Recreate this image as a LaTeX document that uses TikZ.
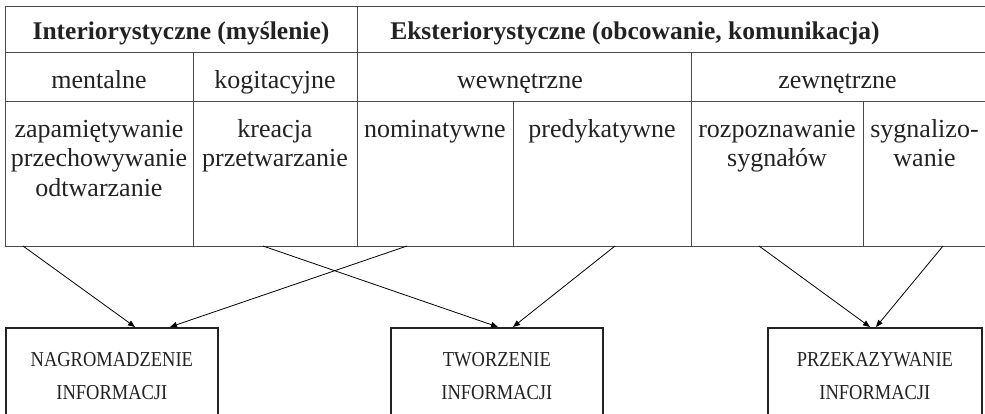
\documentclass[tikz,border=0pt]{standalone}
\usepackage{fontspec}
\usepackage{graphicx}
\setmainfont{Liberation Serif}
\usetikzlibrary{arrows.meta}
\definecolor{ink}{HTML}{222222}
\definecolor{rule}{HTML}{4A4A4A}
\newcommand\tallcap[1]{\scalebox{1}[1.15]{#1}}
\begin{document}
\begin{tikzpicture}[x=1pt,y=-1pt,
  cell/.style={draw=rule,line width=1pt,rectangle,anchor=north west,inner sep=0pt,outer sep=0pt},
  txt/.style={text=ink,font=\fontsize{26}{29.5}\selectfont,inner sep=0pt,align=center},
  head/.style={txt,font=\fontsize{25.5}{29}\selectfont\bfseries},
  outbox/.style={draw=ink,line width=1.7pt,rectangle,anchor=north west,inner sep=0pt,
     minimum height=98pt,text=ink,font=\fontsize{18.5}{33}\selectfont,align=center},
  arr/.style={draw=black,line width=0.8pt,-{Triangle[length=7pt,width=5.5pt]}}]
\useasboundingbox (0,0) rectangle (985,414);
% row 1
\node[cell,minimum width=352pt,minimum height=46pt] (c11) at (5,7) {};
\node[cell,minimum width=633pt,minimum height=46pt] (c12) at (357,7) {};
% row 2
\node[cell,minimum width=188pt,minimum height=49pt] (c21) at (5,53) {};
\node[cell,minimum width=164pt,minimum height=49pt] (c22) at (193,53) {};
\node[cell,minimum width=334pt,minimum height=49pt] (c23) at (357,53) {};
\node[cell,minimum width=299pt,minimum height=49pt] (c24) at (691,53) {};
% row 3
\node[cell,minimum width=188pt,minimum height=144pt] (c31) at (5,102) {};
\node[cell,minimum width=164pt,minimum height=144pt] (c32) at (193,102) {};
\node[cell,minimum width=156pt,minimum height=144pt] (c33) at (357,102) {};
\node[cell,minimum width=178pt,minimum height=144pt] (c34) at (513,102) {};
\node[cell,minimum width=172pt,minimum height=144pt] (c35) at (691,102) {};
\node[cell,minimum width=127pt,minimum height=144pt] (c36) at (863,102) {};
% texts
\node[head,anchor=base] (t11) at (c11.center |- 0,40) {Interiorystyczne (myślenie)};
\node[head,anchor=base] (t12) at ([xshift=-38.5pt]c12.center |- 0,40) {Eksteriorystyczne (obcowanie, komunikacja)};
\node[txt,anchor=base] (t21) at (c21.center |- 0,88.5) {mentalne};
\node[txt,anchor=base] (t22) at (c22.center |- 0,88.5) {kogitacyjne};
\node[txt,anchor=base] (t23) at ([xshift=-4pt]c23.center |- 0,88.5) {wewnętrzne};
\node[txt,anchor=base] (t24) at ([xshift=-3pt]c24.center |- 0,88.5) {zewnętrzne};
\node[txt,anchor=north] (t31) at ([yshift=-14.5pt]c31.north) {\strut zapamiętywanie\\przechowywanie\\odtwarzanie};
\node[txt,anchor=north] (t32) at ([yshift=-14.5pt]c32.north) {\strut kreacja\\przetwarzanie};
\node[txt,anchor=north] (t33) at ([yshift=-14.5pt]c33.north) {\strut nominatywne};
\node[txt,anchor=north] (t34) at ([yshift=-14.5pt]c34.north) {\strut predykatywne};
\node[txt,anchor=north] (t35) at ([yshift=-14.5pt]c35.north) {\strut rozpoznawanie\\sygnałów};
\node[txt,anchor=north] (t36) at ([yshift=-14.5pt,xshift=-2pt]c36.north) {\strut sygnalizo-\\wanie};
% output boxes
\node[outbox,minimum width=212pt] (b1) at (5,327) {\strut\tallcap{NAGROMADZENIE}\\\strut\tallcap{INFORMACJI}};
\node[outbox,minimum width=212pt] (b2) at (390,327) {\strut\tallcap{TWORZENIE}\\\strut\tallcap{INFORMACJI}};
\node[outbox,minimum width=214pt] (b3) at (767,327) {\strut\tallcap{PRZEKAZYWANIE}\\\strut\tallcap{INFORMACJI}};
% arrows
\draw[arr] ([xshift=18pt]c31.south west) -- ([xshift=130pt]b1.north west);
\draw[arr] ([xshift=50pt]c33.south west) -- ([xshift=165pt]b1.north west);
\draw[arr] ([xshift=70pt]c32.south west) -- ([xshift=108pt]b2.north west);
\draw[arr] ([xshift=102pt]c34.south west) -- ([xshift=123pt]b2.north west);
\draw[arr] ([xshift=68pt]c35.south west) -- ([xshift=103pt]b3.north west);
\draw[arr] ([xshift=80pt]c36.south west) -- ([xshift=109pt]b3.north west);
\end{tikzpicture}
\end{document}
